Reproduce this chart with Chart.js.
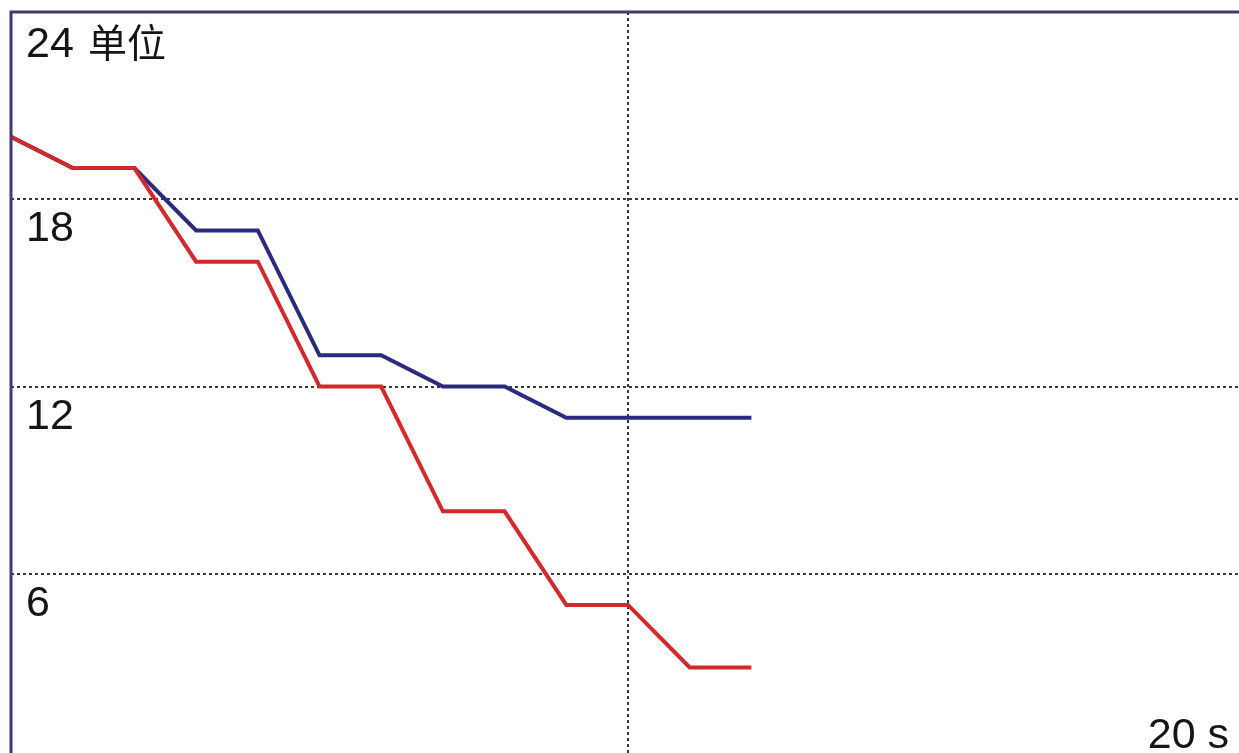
<!DOCTYPE html>
<html>
<head>
<meta charset="utf-8">
<script src="https://cdn.jsdelivr.net/npm/chart.js@4/dist/chart.umd.min.js"></script>
<style>
  html, body { margin: 0; padding: 0; background: #fff; overflow: hidden; }
  #wrap { width: 1239px; height: 753px; overflow: hidden; position: relative; }
  #chart { position: absolute; left: 0; top: 0; }
</style>
</head>
<body>
<div id="wrap"><canvas id="chart" width="1245" height="761"></canvas></div>
<script>
// time in seconds
var seconds = [0, 1, 2, 3, 4, 5, 6, 7, 8, 9, 10, 11, 12];
var redSeries = [20, 19, 19, 16, 16, 12, 12, 8, 8, 5, 5, 3, 3];
var blueSeries = [20, 19, 19, 17, 17, 13, 13, 12, 12, 11, 11, 11, 11];

var yTickValues = [24, 18, 12, 6];
var yTickLabels = ['24 单位', '18', '12', '6'];
var xTickValue = 20;
var xTickLabel = '20 s';

function toPoints(values) {
    return seconds.map(function (s, i) { return { x: s, y: values[i] }; });
}

var latinFont = '43px "Liberation Sans", Arial, sans-serif';
var cjkFont = '39px "Noto Sans CJK SC", sans-serif';

// frame + labels drawn inside the plot
var labelsPlugin = {
    id: 'insideLabels',
    afterDraw: function (chart) {
        var ctx = chart.ctx;
        var area = chart.chartArea;
        var xs = chart.scales.x;
        var ys = chart.scales.y;
        ctx.save();
        // left and top border
        ctx.strokeStyle = '#3d3d6e';
        ctx.lineWidth = 3;
        ctx.beginPath();
        ctx.moveTo(area.left, area.bottom + 5);
        ctx.lineTo(area.left, area.top);
        ctx.lineTo(area.right + 5, area.top);
        ctx.stroke();

        ctx.fillStyle = '#151515';
        ctx.textBaseline = 'alphabetic';
        ctx.font = latinFont;
        ctx.textAlign = 'left';
        yTickValues.forEach(function (v, i) {
            var y = ys.getPixelForValue(v);
            var off = i === 0 ? 45 : 42;
            var parts = yTickLabels[i].split(' ');
            ctx.font = latinFont;
            ctx.fillText(parts[0], 26, y + off);
            if (parts[1]) {
                ctx.font = cjkFont;
                ctx.fillText(parts[1], 88, y + off);
            }
        });
        ctx.font = latinFont;
        ctx.textAlign = 'right';
        ctx.fillText(xTickLabel, xs.getPixelForValue(xTickValue) - 16, 748);
        ctx.restore();
    }
};

new Chart(document.getElementById('chart'), {
    type: 'line',
    data: {
        datasets: [{
            label: 'red',
            data: toPoints(redSeries),
            borderColor: '#d02a2c',
            borderWidth: 4,
            pointRadius: 0,
            tension: 0,
            fill: false
        }, {
            label: 'blue',
            data: toPoints(blueSeries),
            borderColor: '#2c2a7f',
            borderWidth: 4,
            pointRadius: 0,
            tension: 0,
            fill: false
        }]
    },
    options: {
        responsive: false,
        animation: false,
        devicePixelRatio: 1,
        layout: { padding: { left: 11, top: 12, right: 0, bottom: 0 } },
        plugins: {
            legend: { display: false },
            tooltip: { enabled: false }
        },
        scales: {
            x: {
                type: 'linear',
                position: 'top',
                min: 0,
                max: 20,
                ticks: { display: false, stepSize: 10 },
                border: { display: false, dash: [3, 3] },
                grid: {
                    drawTicks: false,
                    lineWidth: 2,
                    color: function (c) { return c.tick && c.tick.value === 10 ? '#3a3a3a' : 'rgba(0,0,0,0)'; }
                }
            },
            y: {
                min: 0,
                max: 24,
                ticks: { display: false, stepSize: 6 },
                border: { display: false, dash: [3, 3] },
                grid: {
                    drawTicks: false,
                    lineWidth: 2,
                    color: function (c) {
                        var v = c.tick ? c.tick.value : 0;
                        return (v > 0 && v < 24) ? '#3a3a3a' : 'rgba(0,0,0,0)';
                    }
                }
            }
        }
    },
    plugins: [labelsPlugin]
});
</script>
</body>
</html>
